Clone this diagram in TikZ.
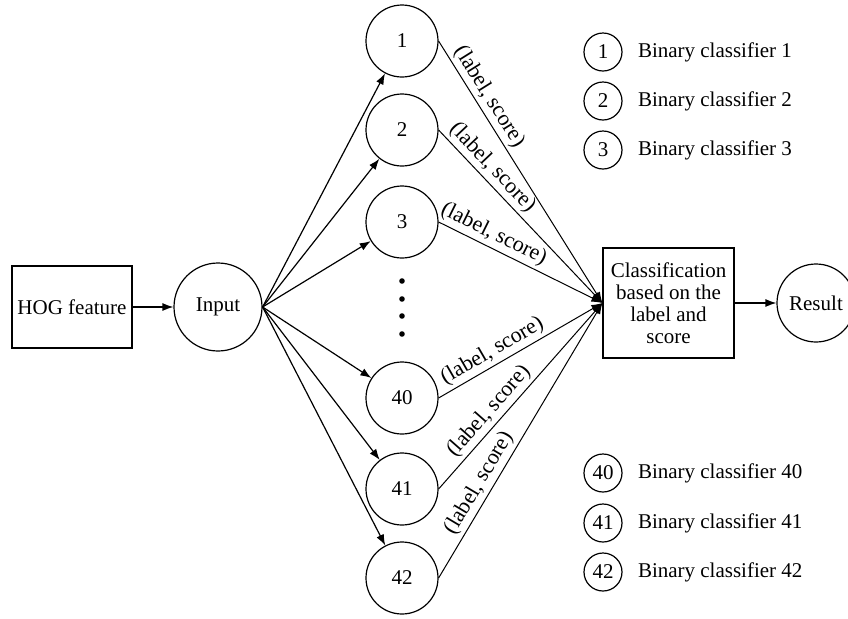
\documentclass[tikz,border=0pt]{standalone}
\usepackage{fontspec}
\setmainfont{Liberation Serif}
\usetikzlibrary{arrows.meta,positioning}

\begin{document}
\begin{tikzpicture}[x=0.5pt, y=-0.5pt,
  every node/.style={font=\fontsize{10.5}{11}\selectfont},
  box/.style={draw, line width=0.6pt, inner sep=2pt},
  clf/.style={draw, circle, line width=0.6pt, minimum size=36pt, inner sep=0pt},
  legc/.style={draw, circle, line width=0.6pt, minimum size=19pt, inner sep=0pt},
  arr/.style={line width=0.6pt, -{Latex[length=5.5pt,width=4pt]}},
  vote/.style={line width=0.5pt, -{Latex[length=5.5pt,width=4pt]}}]
  \useasboundingbox (0,0) rectangle (848,618);

  % Input side
  \node[box, minimum width=60pt, minimum height=41pt] (hog) at (72,307) {HOG feature};
  \node[clf, minimum size=44pt] (inp) at (218,307) {Input};
  \draw[arr] (hog) -- (inp);

  % Binary classifiers
  \foreach \n/\y in {1/41, 2/130, 3/222, 40/398, 41/489, 42/578}
    \node[clf] (c\n) at (402,\y) {\n};
  \foreach \y in {281, 299, 316, 334}
    \fill (402,\y) circle (1.4pt);

  % Fusion and result
  \node[box, minimum width=65.5pt, minimum height=55pt, align=center] (cls) at (668.5,303)
    {Classification\\based on the\\label and\\score};
  \node[clf, minimum size=39pt] (res) at (816,303) {Result};

  % Input -> classifiers
  \foreach \n in {1, 2, 3, 40, 41, 42}
    \draw[arr] (inp.east) -- (c\n);

  % Classifiers -> fusion
  \foreach \n/\p in {1/0.24, 2/0.27, 3/0.30, 40/0.37, 41/0.37, 42/0.32}
    \draw[vote] (c\n.east) -- node[sloped, above, pos=\p, inner sep=1.5pt,
      font=\fontsize{11}{12}\selectfont] {(label, score)} (cls.west);
  \draw[arr] (cls) -- (res);

  % Legend
  \foreach \n/\y in {1/52, 2/101, 3/150, 40/473, 41/523, 42/572} {
    \node[legc] (l\n) at (603,\y) {\n};
    \node[right=7.5pt of l\n, inner sep=0pt] (t\n) {Binary classifier \n};
  }
\end{tikzpicture}
\end{document}
